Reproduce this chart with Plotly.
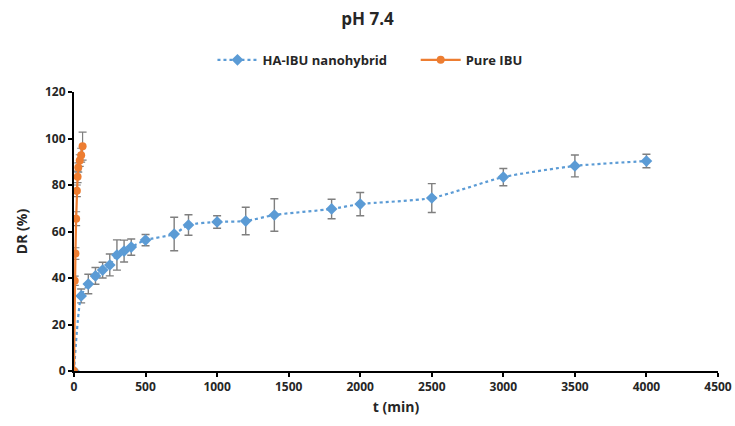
import plotly.graph_objects as go

# HA-IBU nanohybrid release at pH 7.4
t_hybrid = [0, 50, 100, 150, 200, 250, 300, 350, 400, 500, 700, 800, 1000,
            1200, 1400, 1800, 2000, 2500, 3000, 3500, 4000]
dr_hybrid = [0, 32.3, 37.4, 40.9, 43.4, 45.6, 49.9, 51.6, 53.3, 56.3, 58.9,
             62.8, 64.1, 64.5, 67.1, 69.7, 71.8, 74.4, 83.4, 88.2, 90.3]
err_hybrid = [0, 3.0, 4.2, 3.6, 3.4, 4.7, 6.5, 4.7, 3.5, 2.4, 7.2, 4.4, 2.7,
              5.9, 7.0, 4.2, 5.0, 6.2, 3.7, 4.7, 2.9]

# Pure IBU release at pH 7.4
t_pure = [0, 5, 10, 15, 20, 25, 30, 40, 50, 60]
dr_pure = [0, 38.8, 50.5, 65.5, 77.5, 83.5, 87.5, 90.5, 92.8, 96.7]
err_pure = [0, 2.0, 2.5, 3.0, 2.5, 2.5, 2.0, 2.5, 3.0, 6.0]

x_ticks = [0, 500, 1000, 1500, 2000, 2500, 3000, 3500, 4000, 4500]
y_ticks = [0, 20, 40, 60, 80, 100, 120]

BLUE = "#5B9BD5"
ORANGE = "#ED7D31"
ERR = "#7F7F7F"
FONT = "Open Sans"
GAP = "\u00a0" * 7

fig = go.Figure()

fig.add_trace(go.Scatter(
    x=t_hybrid, y=dr_hybrid, name="<b>HA-IBU nanohybrid</b>" + GAP,
    mode="lines+markers",
    line=dict(color=BLUE, width=2.2, dash="dot", shape="spline", smoothing=0.6),
    marker=dict(symbol="diamond", size=9, color=BLUE),
    error_y=dict(type="data", array=err_hybrid, color=ERR, thickness=1.4, width=4),
))

fig.add_trace(go.Scatter(
    x=t_pure, y=dr_pure, name="<b>Pure IBU</b>",
    mode="lines+markers",
    line=dict(color=ORANGE, width=2.2),
    marker=dict(symbol="circle", size=8, color=ORANGE),
    error_y=dict(type="data", array=err_pure, color=ERR, thickness=1.2, width=4),
))

fig.update_layout(
    width=735, height=426,
    margin=dict(l=74, r=17, t=92, b=55, autoexpand=False),
    paper_bgcolor="white", plot_bgcolor="white",
    font=dict(family=FONT, color="#404040"),
    title=dict(text="<b>pH 7.4</b>", x=0.5, xanchor="center", y=0.955, yanchor="middle",
               font=dict(size=17, color="#262626", family=FONT)),
    legend=dict(orientation="h", x=0.215, xanchor="left", y=1.115, yanchor="middle",
                font=dict(size=13, color="#262626", family=FONT),
                itemwidth=40, bgcolor="rgba(0,0,0,0)"),
    showlegend=True,
)

fig.update_xaxes(
    range=[0, 4500], tickvals=x_ticks, ticktext=[f"<b>{v}</b>" for v in x_ticks],
    showline=True, linecolor="black", linewidth=2,
    ticks="outside", ticklen=4, tickwidth=1.5, tickcolor="black",
    showgrid=False, zeroline=False, automargin=False,
    tickfont=dict(size=12, color="#262626", family=FONT),
    title=dict(text="<b>t (min)</b>", font=dict(size=14, color="#262626", family=FONT), standoff=8),
)
fig.update_yaxes(
    range=[0, 120], tickvals=y_ticks, ticktext=[f"<b>{v}</b>" for v in y_ticks],
    showline=True, linecolor="black", linewidth=2,
    ticks="outside", ticklen=4, tickwidth=1.5, tickcolor="black",
    showgrid=False, zeroline=False, automargin=False,
    tickfont=dict(size=12, color="#262626", family=FONT),
    title=dict(text="<b>DR (%)</b>", font=dict(size=14, color="#262626", family=FONT), standoff=14),
)

fig.write_html("out.html")
